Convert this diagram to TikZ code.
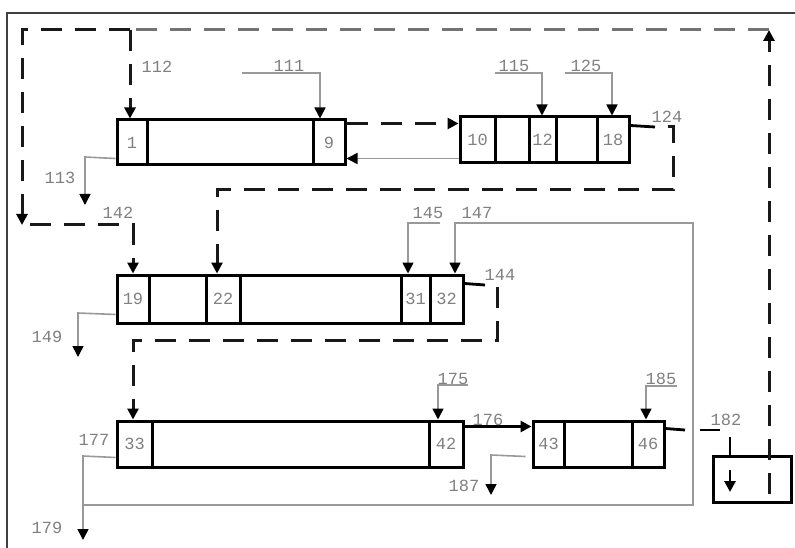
\documentclass[tikz,border=0pt]{standalone}
\usepackage{fontspec}
\newfontfamily\lblfont{Liberation Mono}
\usetikzlibrary{arrows.meta,calc}
\newcommand\mkcell[6]{\node[cell, minimum width={(#4-#2)*1pt}, minimum height={(#5-#3)*1pt}] (#1) at ({(#2+#4)/2},{(#3+#5)/2}) {#6};}
\begin{document}
\begin{tikzpicture}[x=1pt,y=-1pt,
  cell/.style={draw=black, line width=3pt, inner sep=0pt, font=\lblfont\fontsize{17}{18}\selectfont, text=black!50},
  lbl/.style={font=\lblfont\fontsize{17}{18}\selectfont, text=black!50, inner sep=0pt},
  dsh/.style={line width=3pt, dash pattern=on 21pt off 13pt, draw=black!90},
  dshg/.style={dsh, draw=black!55},
  gl/.style={line width=1.6pt, draw=black!40},
  blk/.style={line width=2.8pt, draw=black},
  tip/.style={-{Triangle[length=11pt,width=11pt,color=black]}},
  frame/.style={line width=1.5pt, draw=black!75}
]
\useasboundingbox (0,0) rectangle (795,548);
\draw[frame] (7,548) -- (7,13) -- (795,13);

% row 1
\mkcell{c1}{117}{120}{147}{165}{1}
\mkcell{c1b}{147}{120}{313}{165}{}
\mkcell{c9}{313}{120}{345}{165}{9}
% row 2
\mkcell{c10}{460}{117}{495}{163}{10}
\mkcell{c2a}{495}{117}{529}{163}{}
\mkcell{c12}{529}{117}{556}{163}{12}
\mkcell{c2b}{556}{117}{597}{163}{}
\mkcell{c18}{597}{117}{629}{163}{18}
% row 3
\mkcell{c19}{117}{275}{149}{323}{19}
\mkcell{c3a}{149}{275}{206}{323}{}
\mkcell{c22}{206}{275}{240}{323}{22}
\mkcell{c3b}{240}{275}{401}{323}{}
\mkcell{c31}{401}{275}{430}{323}{31}
\mkcell{c32}{430}{275}{463}{323}{32}
% row 4
\mkcell{c33}{117}{421}{152}{467}{33}
\mkcell{c4a}{152}{421}{429}{467}{}
\mkcell{c42}{429}{421}{463}{467}{42}
% row 5
\mkcell{c43}{533}{421}{564}{467}{43}
\mkcell{c5a}{564}{421}{632}{467}{}
\mkcell{c46}{632}{421}{664}{467}{46}
% box 6
\mkcell{b6}{713}{456}{791}{502}{}

% coordinates
\coordinate (tr) at (769,30);
\coordinate (tl) at (22,30);
\coordinate (t112) at (130,30);
\coordinate (lb) at (22,225);
\coordinate (lb2) at (30,225);
\coordinate (p142) at (133,225);
\coordinate (b6in) at (769,494);

% big dashed loop
\draw[dsh,tip] (b6in) -- (tr);
\draw[dshg] (tr) -- (t112);
\draw[dsh,tip] (t112) -- (tl) -- (lb);
\draw[dsh,tip] (t112) -- (c1.north -| t112);
\draw[dsh,tip] (lb2) -- (p142) -- (c19.north -| p142);

% 9 -> 10 and back
\draw[dsh,tip] ([yshift=-5pt]c9.north east) -- ([yshift=-5pt]c9.north east -| c10.west);
\draw[gl,tip] ([yshift=6pt]c10.south west) -- ([yshift=6pt]c10.south west -| c9.east);

% 124
\coordinate (a124) at (655,127);
\coordinate (b124) at (668,127);
\coordinate (c124) at (673,127);
\coordinate (d124) at (673,190);
\coordinate (e124) at (217,190);
\draw[blk] ([yshift=-10pt]c18.north east) -- (a124);
\draw[dsh,tip] (b124) -- (c124) -- (d124) -- (e124) -- (c22.north -| e124);

% 144
\coordinate (a144) at (485,285);
\coordinate (c144) at (497,287);
\coordinate (d144) at (497,340);
\coordinate (e144) at (133,340);
\draw[blk] ([yshift=-10pt]c32.north east) -- (a144);
\draw[dsh,tip] (c144) -- (d144) -- (e144) -- (c33.north -| e144);

% 176
\draw[blk,tip] ([yshift=-7pt]c42.north east) -- ([yshift=-7pt]c42.north east -| c43.west);

% 182
\coordinate (a182) at (685,430);
\coordinate (b182) at (700,430);
\coordinate (c182) at (720,430);
\coordinate (d182) at (730,437);
\coordinate (e182) at (730,470);
\coordinate (f182) at (730,492);
\draw[blk] ([yshift=-9pt]c46.north east) -- (a182);
\draw[blk] (b182) -- (c182);
\draw[blk] (d182) -- (b6.north -| d182);
\draw[blk,tip] (e182) -- (f182);

% gray feeds
\coordinate (a111) at (242,73);
\coordinate (b111) at (320,73);
\draw[gl,tip] (a111) -- (b111) -- (c9.north -| b111);
\coordinate (a115) at (495,73);
\coordinate (b115) at (542,73);
\draw[gl,tip] (a115) -- (b115) -- (c12.north -| b115);
\coordinate (a125) at (565,73);
\coordinate (b125) at (612,73);
\draw[gl,tip] (a125) -- (b125) -- (c18.north -| b125);
\coordinate (a113) at (85,157);
\coordinate (b113) at (85,205);
\draw[gl,tip] ([yshift=8pt]c1.south west) -- (a113) -- (b113);
\coordinate (a149) at (78,313);
\coordinate (b149) at (78,357);
\draw[gl,tip] ([yshift=10pt]c19.south west) -- (a149) -- (b149);
\coordinate (a145) at (440,223);
\coordinate (b145) at (408,223);
\draw[gl,tip] (a145) -- (b145) -- (c31.north -| b145);
\coordinate (a147) at (83,505);
\coordinate (b147) at (693,505);
\coordinate (c147) at (693,223);
\coordinate (d147) at (455,223);
\draw[gl,tip] (a147) -- (b147) -- (c147) -- (d147) -- (c32.north -| d147);
\coordinate (a177) at (83,456);
\coordinate (b177) at (83,540);
\draw[gl,tip] ([yshift=11pt]c33.south west) -- (a177) -- (b177);
\coordinate (a175) at (468,385);
\coordinate (b175) at (438,385);
\draw[gl,tip] (a175) -- (b175) -- (c42.north -| b175);
\coordinate (a185) at (677,386);
\coordinate (b185) at (646,386);
\draw[gl,tip] (a185) -- (b185) -- (c46.north -| b185);
\coordinate (a187) at (491,455);
\coordinate (b187) at (491,495);
\draw[gl,tip] ([xshift=-6pt,yshift=12pt]c43.south west) -- (a187) -- (b187);

% labels
\node[lbl] (l112) at (157,67) {112};
\node[lbl] (l111) at (289,66) {111};
\node[lbl] (l113) at (60,178) {113};
\node[lbl] (l142) at (118,213) {142};
\node[lbl] (l115) at (514,66) {115};
\node[lbl] (l125) at (586,66) {125};
\node[lbl] (l124) at (667,117) {124};
\node[lbl] (l145) at (428,213) {145};
\node[lbl] (l147) at (477,213) {147};
\node[lbl] (l144) at (500,275) {144};
\node[lbl] (l149) at (47,337) {149};
\node[lbl] (l175) at (453,379) {175};
\node[lbl] (l185) at (661,379) {185};
\node[lbl] (l176) at (488,420) {176};
\node[lbl] (l182) at (726,420) {182};
\node[lbl] (l177) at (94,440) {177};
\node[lbl] (l187) at (464,486) {187};
\node[lbl] (l179) at (47,528) {179};
\end{tikzpicture}
\end{document}
